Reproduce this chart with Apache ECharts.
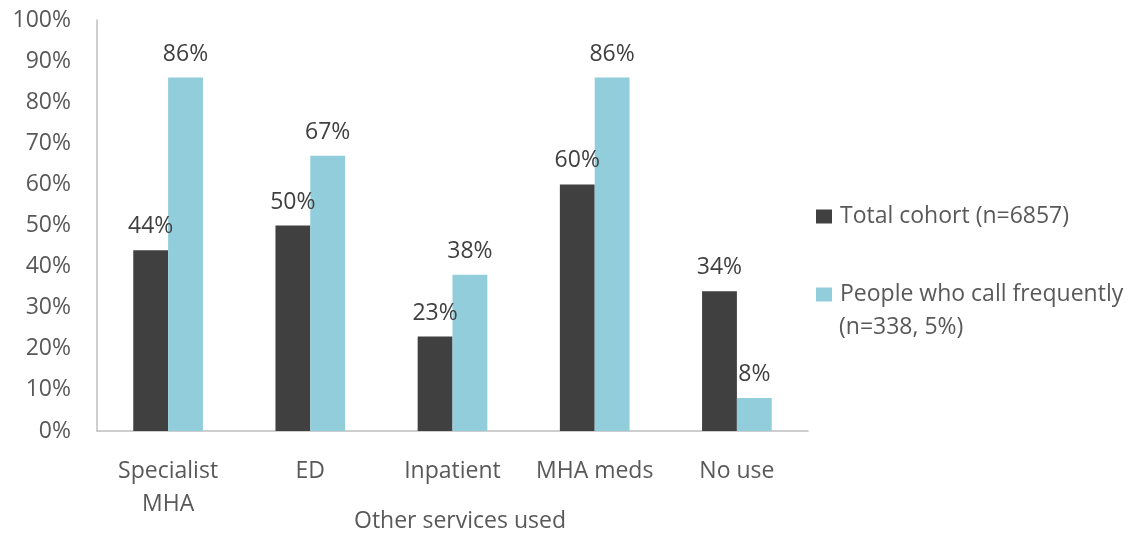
<!DOCTYPE html>
<html>
<head>
<meta charset="utf-8">
<script src="https://cdn.jsdelivr.net/npm/echarts@6/dist/echarts.min.js"></script>
<style>
  html, body { margin: 0; padding: 0; background: #ffffff; }
  #chart { width: 1139px; height: 534px; }
</style>
</head>
<body>
<div id="chart"></div>
<script>
// Service categories and the share of each group using them (%)
const categories = ['Specialist\nMHA', 'ED', 'Inpatient', 'MHA meds', 'No use'];
const totalCohort = [44, 50, 23, 60, 34];
const frequentCallers = [86, 67, 38, 86, 8];
const yTicks = [0, 10, 20, 30, 40, 50, 60, 70, 80, 90, 100];

const FONT = 'Open Sans';
const FS = 23;
const AXIS_TEXT = '#595959';
const LABEL_TEXT = '#404040';

const chart = echarts.init(document.getElementById('chart'));

chart.setOption({
  animation: false,
  textStyle: { fontFamily: FONT },
  grid: { left: 97, right: 331, top: 20, bottom: 103, containLabel: false, outerBoundsMode: 'none' },
  legend: {
    orient: 'vertical',
    left: 811,
    top: 200,
    itemWidth: 16,
    itemHeight: 14,
    itemGap: 55,
    icon: 'rect',
    textStyle: { fontFamily: FONT, fontSize: FS, color: AXIS_TEXT, padding: [0, 0, 0, 3] },
    data: ['Total cohort (n=6857)', 'People who call frequently']
  },
  graphic: [{
    type: 'text',
    left: 839,
    top: 316,
    style: { text: '(n=338, 5%)', fontFamily: FONT, fontSize: FS, fill: AXIS_TEXT }
  }],
  xAxis: {
    type: 'category',
    data: categories,
    name: 'Other services used',
    nameLocation: 'middle',
    nameGap: 79,
    nameMoveOverlap: false,
    nameTextStyle: { fontFamily: FONT, fontSize: FS, color: AXIS_TEXT, padding: [0, 0, 0, 15] },
    axisLine: { lineStyle: { color: '#bfbfbf', width: 1.5 } },
    axisTick: { show: false },
    axisLabel: { interval: 0, fontFamily: FONT, fontSize: FS, color: AXIS_TEXT, margin: 24, lineHeight: 33 }
  },
  yAxis: {
    type: 'value',
    min: yTicks[0],
    max: yTicks[yTicks.length - 1],
    interval: 10,
    axisLine: { show: true, lineStyle: { color: '#bfbfbf', width: 1.5 } },
    axisTick: { show: false },
    splitLine: { show: false },
    axisLabel: { fontFamily: FONT, fontSize: FS, color: AXIS_TEXT, margin: 26, formatter: '{value}%' }
  },
  series: [
    {
      name: 'Total cohort (n=6857)',
      type: 'bar',
      data: totalCohort,
      barGap: '0%',
      barCategoryGap: '51%',
      itemStyle: { color: '#404040' },
      label: { show: true, position: 'top', distance: 12, formatter: '{c}%', fontFamily: FONT, fontSize: FS, color: LABEL_TEXT }
    },
    {
      name: 'People who call frequently',
      type: 'bar',
      data: frequentCallers,
      itemStyle: { color: '#92cddc' },
      label: { show: true, position: 'top', distance: 12, formatter: '{c}%', fontFamily: FONT, fontSize: FS, color: LABEL_TEXT }
    }
  ]
});
</script>
</body>
</html>
